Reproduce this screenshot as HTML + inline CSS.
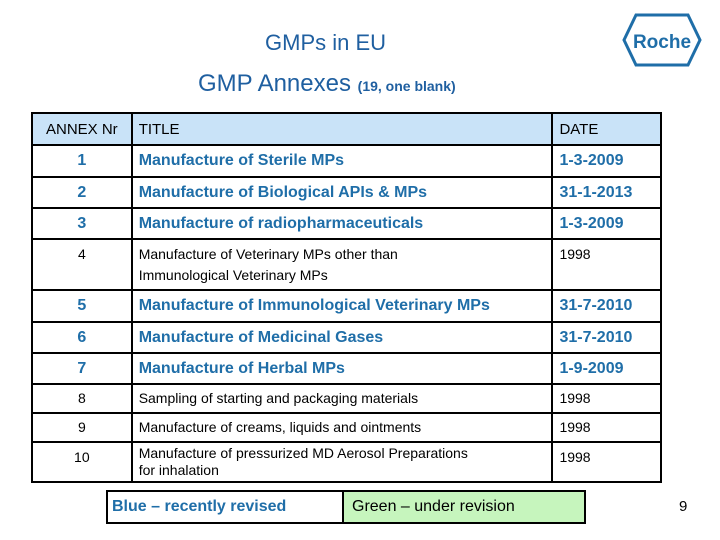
<!DOCTYPE html>
<html><head><meta charset="utf-8"><style>
body{margin:0;width:720px;height:540px;background:#fff;position:relative;overflow:hidden;font-family:"Liberation Sans",sans-serif}
.a{position:absolute}
table{position:absolute;left:31px;top:112px;border-collapse:collapse;width:631px;font-size:15px}
td{border:2px solid #000;padding:0 6px;vertical-align:middle;white-space:nowrap}
td:first-child{text-align:center}
.b{color:#1f6ea8;font-weight:bold;font-size:16px}
.s{font-size:14px;line-height:21px}
.top td{vertical-align:top;padding-top:4px}
</style></head><body>
<div class="a" style="left:265px;top:30px;font-size:22px;color:#1f5fa0">GMPs in EU</div>
<div class="a" style="left:198px;top:70px;font-size:24px;color:#1f5fa0">GMP Annexes <span style="font-size:14px;font-weight:bold">(19, one blank)</span></div>
<svg class="a" style="left:622px;top:13px" width="80" height="54"><polygon points="14,2 66,2 78,27 66,52 14,52 2,27" fill="none" stroke="#1f6ea8" stroke-width="3"/><text x="40" y="35" text-anchor="middle" font-family="Liberation Sans Narrow, Liberation Sans" font-size="19" font-weight="bold" fill="#1f6ea8">Roche</text></svg>
<table>
<colgroup><col style="width:100px"><col style="width:422px"><col style="width:109px"></colgroup>
<tr style="height:32px;background:#c9e3f8"><td>ANNEX Nr</td><td>TITLE</td><td>DATE</td></tr>
<tr style="height:32px" class="b"><td>1</td><td>Manufacture of Sterile MPs</td><td>1-3-2009</td></tr>
<tr style="height:31px" class="b"><td>2</td><td>Manufacture of Biological APIs &amp; MPs</td><td>31-1-2013</td></tr>
<tr style="height:31px" class="b"><td>3</td><td>Manufacture of radiopharmaceuticals</td><td>1-3-2009</td></tr>
<tr style="height:51px" class="s top"><td>4</td><td>Manufacture of Veterinary MPs other than<br>Immunological Veterinary MPs</td><td>1998</td></tr>
<tr style="height:32px" class="b"><td>5</td><td>Manufacture of Immunological Veterinary MPs</td><td>31-7-2010</td></tr>
<tr style="height:31px" class="b"><td>6</td><td>Manufacture of Medicinal Gases</td><td>31-7-2010</td></tr>
<tr style="height:31px" class="b"><td>7</td><td>Manufacture of Herbal MPs</td><td>1-9-2009</td></tr>
<tr style="height:29px" class="s"><td>8</td><td>Sampling of starting and packaging materials</td><td>1998</td></tr>
<tr style="height:29px" class="s"><td>9</td><td>Manufacture of creams, liquids and ointments</td><td>1998</td></tr>
<tr style="height:40px" class="s top"><td style="padding-top:4px">10</td><td style="line-height:17px;padding-top:2px">Manufacture of pressurized MD Aerosol Preparations<br>for inhalation</td><td style="padding-top:4px">1998</td></tr>
</table>
<div class="a" style="left:106px;top:490px;width:230px;height:30px;border:2px solid #000;color:#1f6ea8;font-weight:bold;font-size:16px;line-height:30px;padding-left:4px">Blue – recently revised</div>
<div class="a" style="left:342px;top:490px;width:232px;height:30px;border:2px solid #000;background:#c6f5bd;font-size:16px;line-height:30px;padding-left:8px">Green – under revision</div>
<div class="a" style="left:679px;top:498px;font-size:15px">9</div>
</body></html>
